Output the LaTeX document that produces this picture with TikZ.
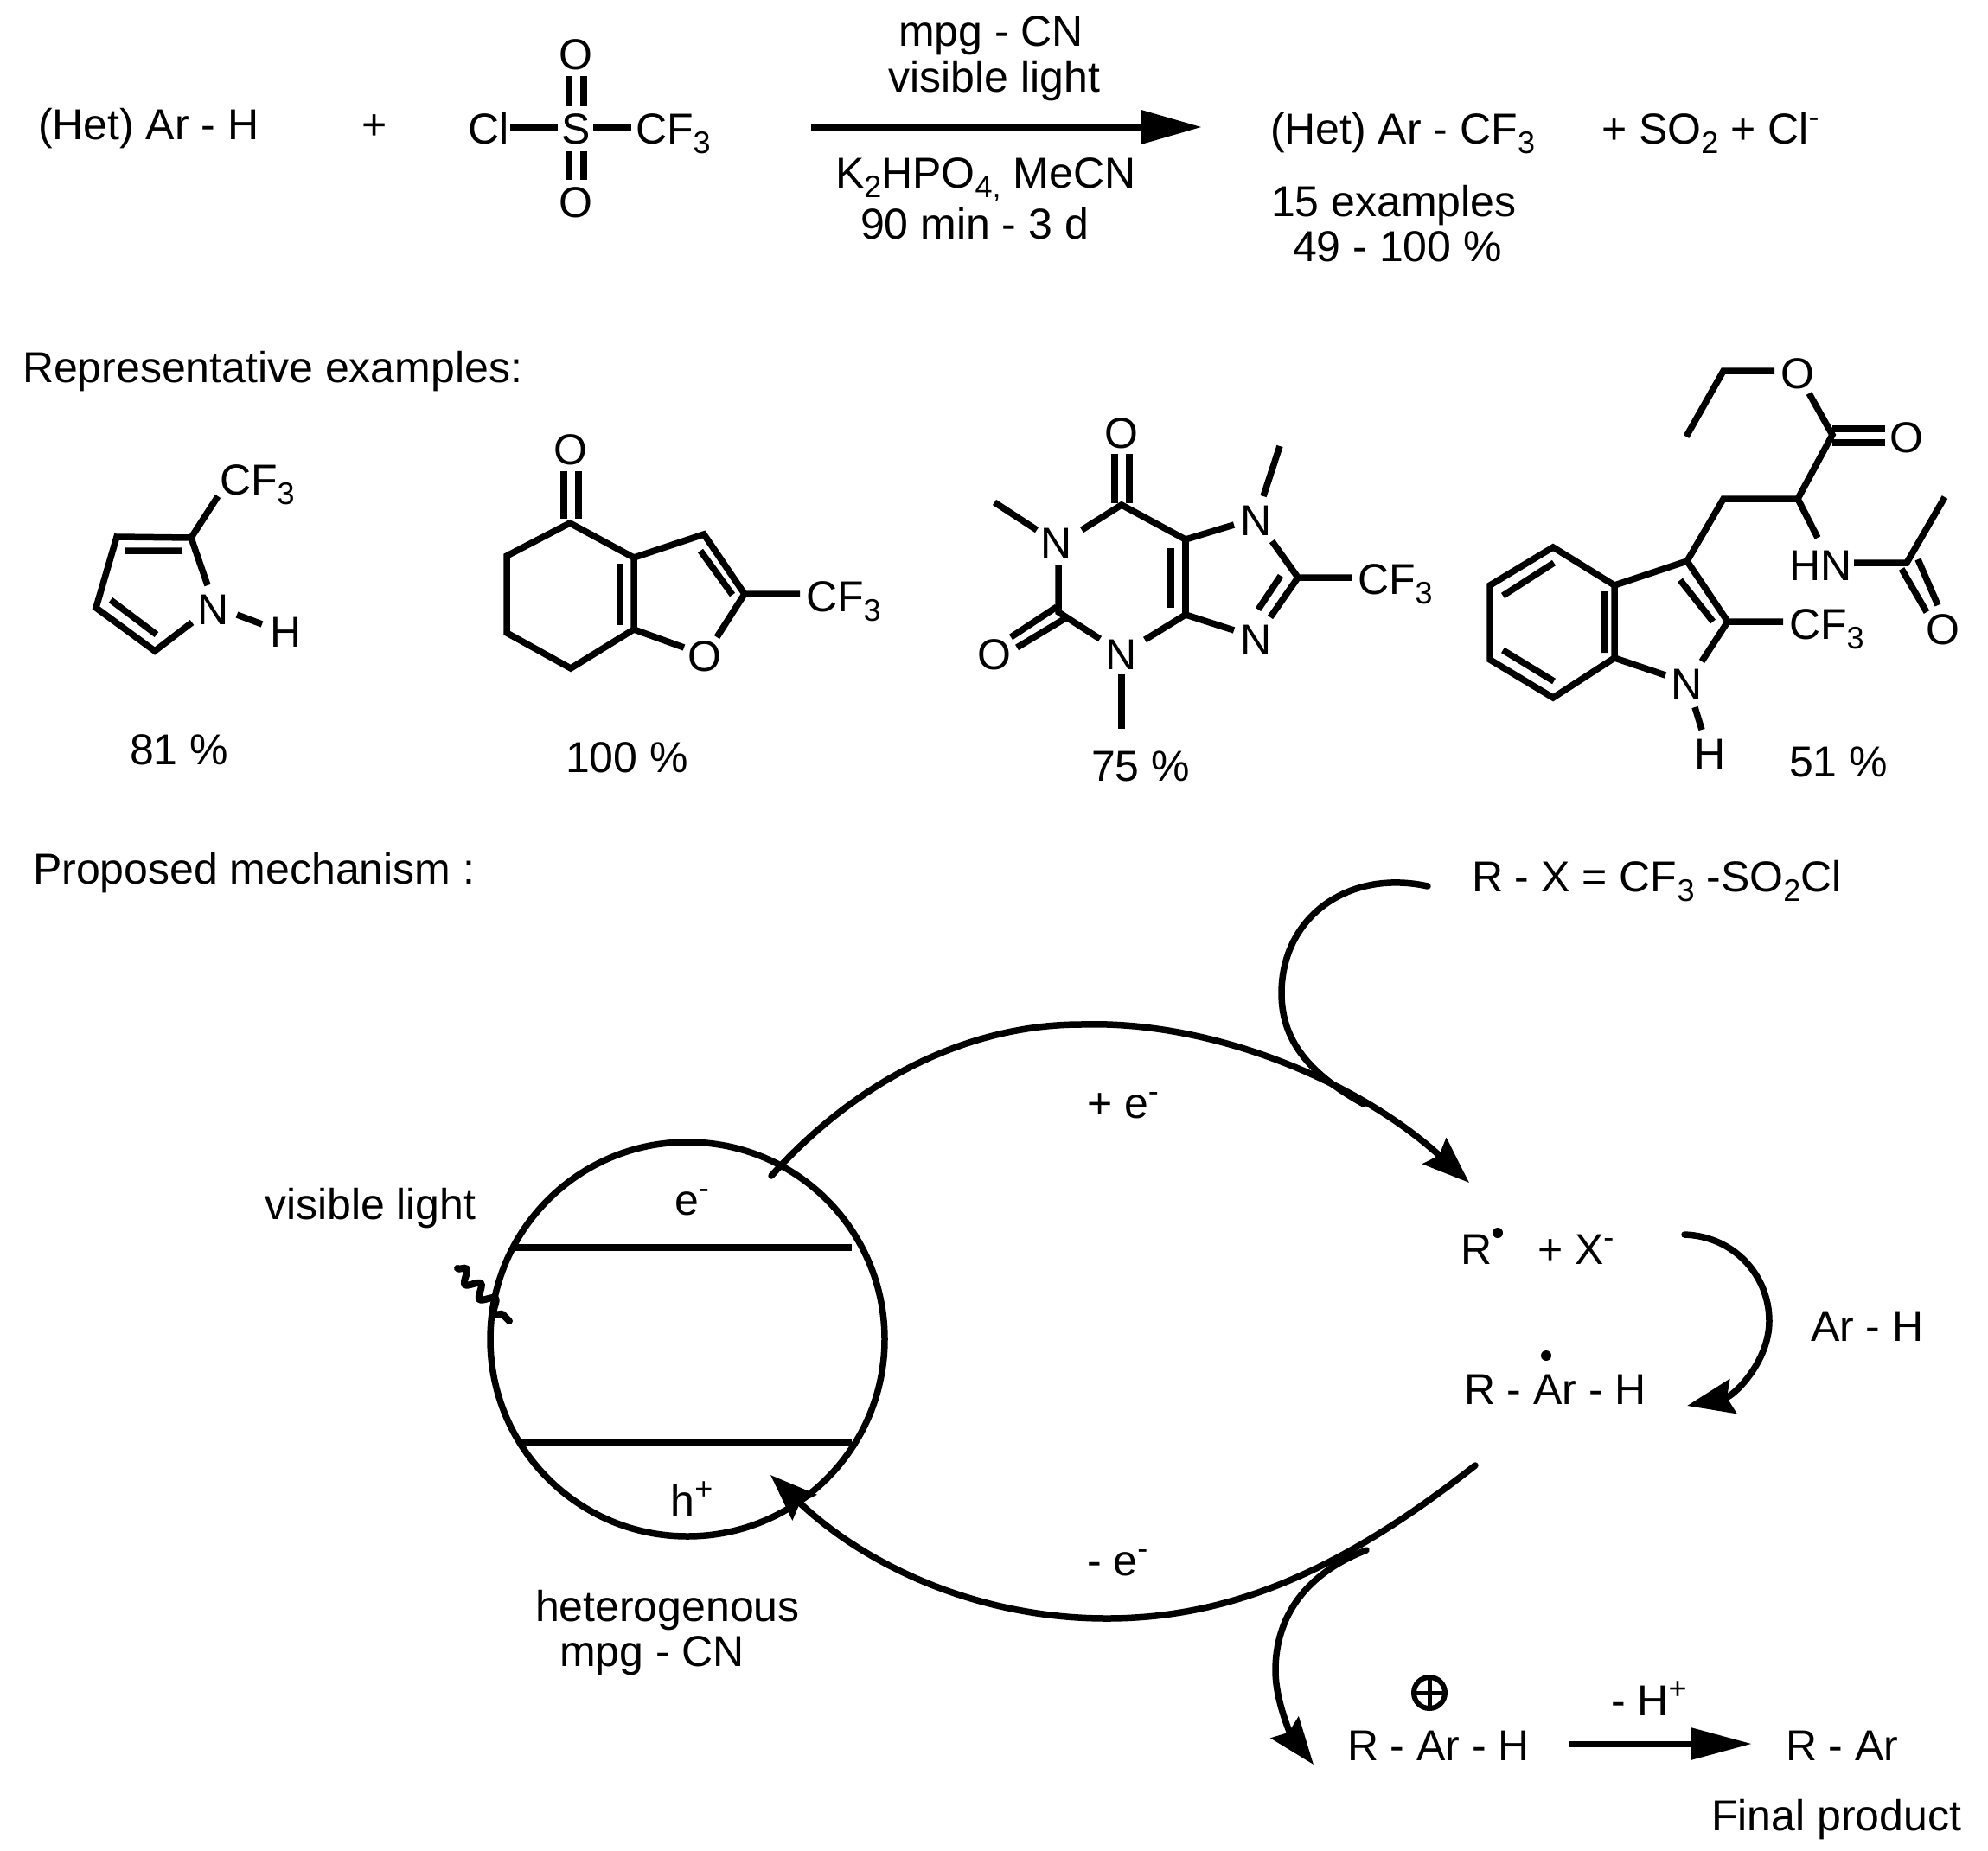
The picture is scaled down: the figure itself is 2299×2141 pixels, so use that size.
\documentclass[tikz,border=0pt]{standalone}
\usepackage{fontspec}
\setmainfont{Liberation Sans}
\usetikzlibrary{arrows.meta,decorations.pathmorphing}
\newcommand{\sbb}[1]{\raisebox{-11pt}{\fontsize{36}{36}\selectfont #1}}
\newcommand{\spp}[1]{\raisebox{19pt}{\fontsize{36}{36}\selectfont #1}}
\tikzset{
  txt/.style={inner sep=0pt,outer sep=0pt,anchor=base west,font=\fontsize{50}{50}\selectfont},
  ctr/.style={inner sep=0pt,outer sep=0pt,anchor=base,font=\fontsize{50}{50}\selectfont},
  bond/.style={line width=7.5pt,line join=miter,line cap=butt},
  curve/.style={line width=7.5pt,line cap=round},
  chead/.style={-{Stealth[length=54pt,width=40pt,inset=7pt]}},
}
\begin{document}
\begin{tikzpicture}[x=1pt,y=-1pt]
\useasboundingbox (0,0) rectangle (2299,2141);
% --- reaction scheme
\node[txt] (het) at (44,161) {(Het) Ar - H};
\node[txt] (plus) at (418,161) {+};
\node[txt] (cl) at (541,166) {Cl};
\node[ctr] (s) at (666,166) {S};
\node[txt] (cf3a) at (735,166) {CF\sbb{3}};
\node[ctr] (o1) at (666,81) {O};
\node[ctr] (o2) at (666,251) {O};
\draw[bond] (590,147) -- (645,147);
\draw[bond] (686,147) -- (730,147);
\draw[bond] (658,88) -- (658,123) (675,88) -- (675,123);
\draw[bond] (658,175) -- (658,208) (675,175) -- (675,208);
\coordinate (ra) at (938,147);
\coordinate (rb) at (1390,147);
\draw[line width=8pt,-{Triangle[length=71pt,width=38pt]}] (ra) -- (rb);
\node[ctr] (c1) at (1146,53) {mpg - CN};
\node[ctr] (c2) at (1150,106) {visible light};
\node[txt] (c3) at (966,217) {K\sbb{2}HPO\sbb{4,} MeCN};
\node[txt] (c4) at (995,276) {90 min - 3 d};
\node[txt] (prod) at (1469,166) {(Het) Ar - CF\sbb{3}};
\node[txt] (side) at (1852,166) {+ SO\sbb{2} + Cl\spp{-}};
\node[txt] (ex) at (1470,250) {15 examples};
\node[txt] (yl) at (1495,302) {49 - 100 \%};
\node[txt] (rep) at (26,442) {Representative examples:};
% --- pyrrole
\draw[bond] (252,574) -- (221,622) -- (135,621) -- (111,703) -- (179,753) -- (222,720);
\draw[bond] (221,622) -- (240,677);
\draw[bond] (144,637) -- (210,637) (128,694) -- (181,734);
\draw[bond] (274,711) -- (303,722);
\node[ctr] (pn) at (247,722) {N};
\node[txt] (ph) at (312,748) {H};
\node[txt] (pcf) at (254,572) {CF\sbb{3}};
\node[txt] (y81) at (150,884) {81 \%};
% --- furanone
\draw[bond] (652,545) -- (652,600) (669,545) -- (669,600);
\draw[bond] (659,605) -- (586,643) -- (586,732) -- (660,773) -- (733,728) -- (733,645) -- cycle;
\draw[bond] (717,652) -- (717,723);
\draw[bond] (733,645) -- (814,618) -- (861,687) -- (925,687);
\draw[bond] (810,637) -- (847,688);
\draw[bond] (733,728) -- (791,749);
\draw[bond] (861,687) -- (829,737);
\node[ctr] (fo1) at (660,537) {O};
\node[ctr] (fo2) at (815,776) {O};
\node[txt] (fcf) at (932,707) {CF\sbb{3}};
\node[txt] (y100) at (654,893) {100 \%};
% --- caffeine analogue
\draw[bond] (1289,525) -- (1289,582) (1306,525) -- (1306,582);
\draw[bond] (1150,581) -- (1199,613);
\draw[bond] (1251,613) -- (1297,584) -- (1371,624) -- (1427,607);
\draw[bond] (1461,574) -- (1480,516);
\draw[bond] (1371,624) -- (1371,711) (1354,634) -- (1354,703);
\draw[bond] (1471,626) -- (1501,668) -- (1563,668);
\draw[bond] (1501,668) -- (1469,714) (1481,666) -- (1455,705);
\draw[bond] (1427,729) -- (1371,711) -- (1324,740);
\draw[bond] (1297,780) -- (1297,843);
\draw[bond] (1224,654) -- (1224,708) -- (1272,739);
\draw[bond] (1222,702) -- (1169,737) (1234,714) -- (1176,749);
\node[ctr] (cn1) at (1222,645) {N};
\node[ctr] (cn7) at (1453,619) {N};
\node[ctr] (cn9) at (1453,757) {N};
\node[ctr] (cn3) at (1297,774) {N};
\node[ctr] (co1) at (1297,518) {O};
\node[ctr] (co2) at (1150,774) {O};
\node[txt] (ccf) at (1570,687) {CF\sbb{3}};
\node[txt] (y75) at (1262,903) {75 \%};
% --- tryptophan derivative
\draw[bond] (1796,633) -- (1867,677) -- (1867,761) -- (1796,807) -- (1723,763) -- (1723,677) -- cycle;
\draw[bond] (1797,651) -- (1738,689) (1738,752) -- (1797,788) (1855,684) -- (1855,755);
\draw[bond] (1867,677) -- (1951,649) -- (1998,719) -- (2062,719);
\draw[bond] (1943,671) -- (1981,719);
\draw[bond] (1867,761) -- (1926,781);
\draw[bond] (1998,719) -- (1968,765);
\draw[bond] (1960,818) -- (1968,844);
\draw[bond] (1951,649) -- (1993,577) -- (2079,577) -- (2119,503) -- (2092,455);
\draw[bond] (2079,577) -- (2102,622);
\draw[bond] (2119,496) -- (2180,496) (2119,512) -- (2180,512);
\draw[bond] (2052,429) -- (1993,429) -- (1950,505);
\draw[bond] (2144,651) -- (2205,651) -- (2249,575);
\draw[bond] (2199,658) -- (2228,708) (2218,647) -- (2241,700);
\node[ctr] (tn) at (1951,808) {N};
\node[ctr] (th) at (1978,889) {H};
\node[txt] (tcf) at (2069,739) {CF\sbb{3}};
\node[txt] (thn) at (2069,671) {HN};
\node[ctr] (to1) at (2079,449) {O};
\node[ctr] (to2) at (2205,523) {O};
\node[ctr] (to3) at (2247,745) {O};
\node[txt] (y51) at (2069,898) {51 \%};
% --- mechanism
\node[txt] (prop) at (38,1022) {Proposed mechanism :};
\node[txt] (rx) at (1702,1031) {R - X = CF\sbb{3} -SO\sbb{2}Cl};
\node[txt] (vl) at (306,1410) {visible light};
\node[ctr] (em) at (800,1405) {e\spp{-}};
\node[ctr] (hp) at (800,1753) {h\spp{+}};
\node[txt] (het2) at (619,1875) {heterogenous};
\node[txt] (mpg2) at (647,1927) {mpg - CN};
\node[txt] (pe) at (1257,1293) {+ e\spp{-}};
\node[txt] (me) at (1257,1822) {- e\spp{-}};
\node[txt] (rr) at (1689,1462) {R};
\node[txt] (xm) at (1778,1462) {+ X\spp{-}};
\node[txt] (rarh) at (1693,1624) {R - Ar - H};
\node[txt] (arh) at (2094,1551) {Ar - H};
\node[txt] (rarh2) at (1558,2036) {R - Ar - H};
\node[txt] (mh) at (1863,1984) {- H\spp{+}};
\node[txt] (rar) at (2065,2036) {R - Ar};
\node[txt] (fp) at (1979,2117) {Final product};
\fill (1732,1426) circle[radius=6pt];
\fill (1788,1568) circle[radius=6pt];
% plus in circle
\draw[line width=6pt] (1653,1958) circle[radius=18pt];
\draw[line width=5pt] (1635,1958) -- (1671,1958) (1653,1940) -- (1653,1976);
% catalyst particle
\draw[line width=7.5pt] (795,1549) circle[radius=228pt];
\draw[line width=8pt] (596,1443) -- (985,1443);
\draw[line width=7pt] (602,1668) -- (985,1668);
\draw[line width=8pt,line cap=round,decorate,decoration={snake,segment length=24pt,amplitude=7pt}] (529,1467) -- (589,1528);
% cycle arrows
\coordinate (a1) at (892,1360);
\coordinate (a2) at (1699,1368);
\draw[curve,chead] (a1) .. controls (1000,1240) and (1130,1185) .. (1250,1185) .. controls (1400,1180) and (1570,1250) .. (a2);
\coordinate (b1) at (1651,1025);
\coordinate (b2) at (1577,1277);
\draw[curve] (b1) .. controls (1560,1005) and (1482,1060) .. (1482,1149) .. controls (1482,1200) and (1510,1240) .. (b2);
\coordinate (c1s) at (1948,1428);
\coordinate (c1e) at (1951,1626);
\draw[curve,chead] (c1s) .. controls (2005,1430) and (2046,1475) .. (2046,1528) .. controls (2046,1575) and (2005,1615) .. (c1e);
\coordinate (d1) at (1706,1695);
\coordinate (d2) at (891,1706);
\draw[curve,chead] (d1) .. controls (1560,1810) and (1430,1872) .. (1280,1872) .. controls (1130,1872) and (1000,1810) .. (d2);
\coordinate (e1) at (1580,1793);
\coordinate (e2) at (1519,2041);
\draw[curve,chead] (e1) .. controls (1510,1820) and (1475,1870) .. (1475,1932) .. controls (1475,1970) and (1495,2010) .. (e2);
\coordinate (f1) at (1814,2017);
\coordinate (f2) at (2026,2017);
\draw[line width=7pt,-{Triangle[length=71pt,width=36pt]}] (f1) -- (f2);
\end{tikzpicture}
\end{document}
